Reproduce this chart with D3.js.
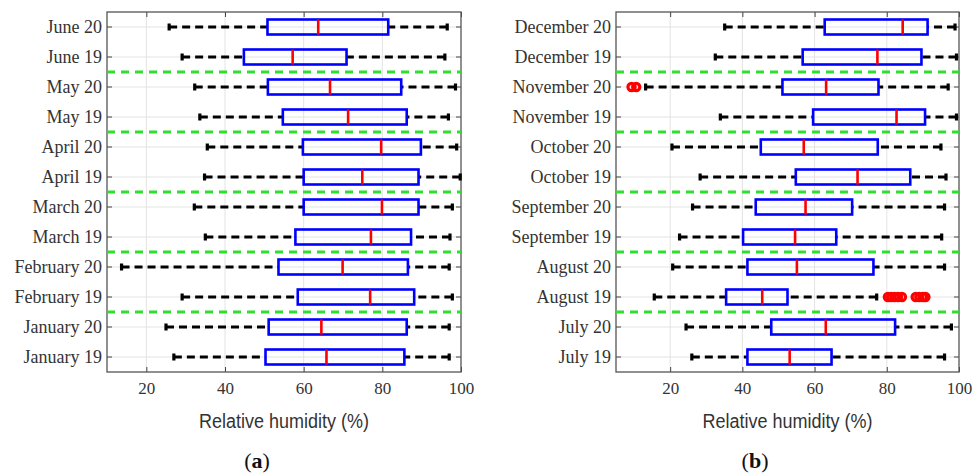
<!DOCTYPE html>
<html>
<head>
<meta charset="utf-8">
<script src="https://cdn.jsdelivr.net/npm/d3@7"></script>
<style>
  body { margin: 0; background: #fff; }
  svg { display: block; }
</style>
</head>
<body>
<svg id="chart"></svg>
<script>
// panel (a): January..June, bottom to top
var monthsA = ["January 19", "January 20", "February 19", "February 20", "March 19", "March 20",
               "April 19", "April 20", "May 19", "May 20", "June 19", "June 20"];
var lowA  = [27.0, 25.0, 29.1, 13.7, 35.0, 32.2, 34.8, 35.5, 33.6, 32.3, 29.1, 25.8];
var q1A   = [50.3, 51.1, 58.5, 53.6, 57.9, 60.0, 60.0, 59.8, 54.7, 50.9, 44.8, 50.8];
var medA  = [65.8, 64.5, 76.9, 69.9, 77.1, 79.9, 74.9, 79.7, 71.3, 66.7, 57.2, 63.7];
var q3A   = [85.6, 86.2, 88.1, 86.5, 87.3, 89.2, 89.2, 89.8, 86.2, 84.8, 70.9, 81.5];
var highA = [97.0, 97.0, 97.8, 97.0, 97.2, 97.8, 99.8, 98.9, 96.8, 98.6, 95.9, 96.5];
var outMonthA = [];
var outValA = [];

// panel (b): July..December, bottom to top
var monthsB = ["July 19", "July 20", "August 19", "August 20", "September 19", "September 20",
               "October 19", "October 20", "November 19", "November 20", "December 19", "December 20"];
var lowB  = [26.0, 24.4, 15.6, 20.7, 22.6, 26.2, 28.3, 20.5, 33.9, 13.2, 32.5, 35.1];
var q1B   = [41.4, 48.0, 35.5, 41.4, 40.2, 43.7, 54.8, 45.1, 59.6, 51.1, 56.7, 62.8];
var medB  = [53.1, 63.1, 45.5, 55.1, 54.6, 57.5, 71.9, 57.0, 82.7, 63.2, 77.4, 84.4];
var q3B   = [64.7, 82.3, 52.5, 76.3, 66.0, 70.4, 86.5, 77.5, 90.6, 77.7, 89.6, 91.3];
var highB = [96.0, 97.9, 77.2, 96.0, 95.2, 96.0, 96.4, 95.0, 99.3, 97.0, 99.3, 98.9];
var outMonthB = ["November 20", "November 20",
                 "August 19", "August 19", "August 19", "August 19", "August 19",
                 "August 19", "August 19", "August 19", "August 19"];
var outValB = [9.3, 10.6, 80.3, 81.2, 82.1, 83.1, 84.2, 88.0, 89.0, 90.0, 90.7];

var xTicks = [20, 40, 60, 80, 100];

var W = 980, H = 474;
var svg = d3.select("#chart").attr("width", W).attr("height", H);
svg.append("rect").attr("width", W).attr("height", H).attr("fill", "#fff");

function drawPanel(p) {
  var x = d3.scaleLinear().domain(p.xDomain).range([p.left, p.right]);
  var y = d3.scaleBand().domain(p.months.slice().reverse()).range([p.top, p.bottom]).padding(0);
  var bw = y.bandwidth();
  var cy = function(m) { return y(m) + bw / 2; };
  var g = svg.append("g");

  // grid
  g.selectAll(".gx").data(xTicks.filter(function(t) { return t < p.xDomain[1]; }))
    .enter().append("line")
    .attr("x1", function(d) { return x(d); }).attr("x2", function(d) { return x(d); })
    .attr("y1", p.top).attr("y2", p.bottom)
    .attr("stroke", "#e3e3e3").attr("stroke-width", 1);
  g.selectAll(".gy").data(p.months).enter().append("line")
    .attr("x1", p.left).attr("x2", p.right)
    .attr("y1", function(d) { return cy(d); }).attr("y2", function(d) { return cy(d); })
    .attr("stroke", "#e3e3e3").attr("stroke-width", 1);

  // axes
  var ax = g.append("g").attr("transform", "translate(0," + p.bottom + ")")
    .call(d3.axisBottom(x).tickValues(xTicks).tickSize(-5).tickPadding(10).tickSizeOuter(0));
  ax.selectAll("text").attr("font-family", "'Liberation Serif', serif").attr("font-size", 17).attr("fill", "#333");
  g.append("g").attr("transform", "translate(0," + p.top + ")")
    .call(d3.axisTop(x).tickValues(xTicks).tickSize(-5).tickFormat("").tickSizeOuter(0));
  var ay = g.append("g").attr("transform", "translate(" + p.left + ",0)")
    .call(d3.axisLeft(y).tickSize(-5).tickPadding(5).tickSizeOuter(0));
  ay.selectAll("text").attr("font-family", "'Liberation Serif', serif").attr("font-size", 18).attr("fill", "#333");
  g.append("g").attr("transform", "translate(" + p.right + ",0)")
    .call(d3.axisRight(y).tickSize(-5).tickFormat("").tickSizeOuter(0));
  g.selectAll(".domain").remove();
  g.selectAll(".tick line").attr("stroke", "#444").attr("stroke-width", 1);

  g.append("rect").attr("x", p.left).attr("y", p.top)
    .attr("width", p.right - p.left).attr("height", p.bottom - p.top)
    .attr("fill", "none").attr("stroke", "#555").attr("stroke-width", 1.3);

  // green separators between months
  var seps = p.months.filter(function(d, i) { return i % 2 === 1 && i < p.months.length - 1; });
  g.selectAll(".sep").data(seps).enter().append("line")
    .attr("x1", p.left).attr("x2", p.right)
    .attr("y1", function(d) { return y(d); }).attr("y2", function(d) { return y(d); })
    .attr("stroke", "#2ee02e").attr("stroke-width", 3).attr("stroke-dasharray", "8,6");

  var idx = d3.range(p.months.length);
  var capH = 3.5, boxH = 7.5;

  // whiskers
  g.selectAll(".wl").data(idx).enter().append("line")
    .attr("x1", function(i) { return x(p.low[i]); }).attr("x2", function(i) { return x(p.q1[i]); })
    .attr("y1", function(i) { return cy(p.months[i]); }).attr("y2", function(i) { return cy(p.months[i]); })
    .attr("stroke", "#000").attr("stroke-width", 3).attr("stroke-dasharray", "8,5");
  g.selectAll(".wh").data(idx).enter().append("line")
    .attr("x1", function(i) { return x(p.high[i]); }).attr("x2", function(i) { return x(p.q3[i]); })
    .attr("y1", function(i) { return cy(p.months[i]); }).attr("y2", function(i) { return cy(p.months[i]); })
    .attr("stroke", "#000").attr("stroke-width", 3).attr("stroke-dasharray", "8,5");
  g.selectAll(".cl").data(idx).enter().append("line")
    .attr("x1", function(i) { return x(p.low[i]); }).attr("x2", function(i) { return x(p.low[i]); })
    .attr("y1", function(i) { return cy(p.months[i]) - capH; }).attr("y2", function(i) { return cy(p.months[i]) + capH; })
    .attr("stroke", "#000").attr("stroke-width", 3.2);
  g.selectAll(".ch").data(idx).enter().append("line")
    .attr("x1", function(i) { return x(p.high[i]); }).attr("x2", function(i) { return x(p.high[i]); })
    .attr("y1", function(i) { return cy(p.months[i]) - capH; }).attr("y2", function(i) { return cy(p.months[i]) + capH; })
    .attr("stroke", "#000").attr("stroke-width", 3.2);

  // boxes
  g.selectAll(".box").data(idx).enter().append("rect")
    .attr("x", function(i) { return x(p.q1[i]); })
    .attr("width", function(i) { return x(p.q3[i]) - x(p.q1[i]); })
    .attr("y", function(i) { return cy(p.months[i]) - boxH; })
    .attr("height", boxH * 2)
    .attr("fill", "none").attr("stroke", "#0000ff").attr("stroke-width", 2.6);
  g.selectAll(".med").data(idx).enter().append("line")
    .attr("x1", function(i) { return x(p.med[i]); }).attr("x2", function(i) { return x(p.med[i]); })
    .attr("y1", function(i) { return cy(p.months[i]) - boxH; }).attr("y2", function(i) { return cy(p.months[i]) + boxH; })
    .attr("stroke", "#ff0000").attr("stroke-width", 2.6);

  // outliers
  g.selectAll(".out").data(d3.range(p.outMonth.length)).enter().append("circle")
    .attr("cx", function(i) { return x(p.outVal[i]); })
    .attr("cy", function(i) { return cy(p.outMonth[i]); })
    .attr("r", 3.6)
    .attr("fill", "none").attr("stroke", "#ff0000").attr("stroke-width", 3.2);

  // labels
  svg.append("text").attr("x", (p.left + p.right) / 2).attr("y", 428)
    .attr("text-anchor", "middle")
    .attr("font-family", "'Liberation Sans', Arial, sans-serif")
    .attr("font-size", 20).attr("fill", "#333")
    .attr("textLength", 170).attr("lengthAdjust", "spacingAndGlyphs")
    .text("Relative humidity (%)");
  var t = svg.append("text").attr("x", p.capX).attr("y", 468)
    .attr("text-anchor", "middle")
    .attr("font-family", "'Liberation Serif', serif")
    .attr("font-size", 22).attr("fill", "#111");
  t.append("tspan").text("(");
  t.append("tspan").attr("font-weight", "bold").text(p.cap);
  t.append("tspan").text(")");
}

drawPanel({
  months: monthsA, low: lowA, q1: q1A, med: medA, q3: q3A, high: highA,
  outMonth: outMonthA, outVal: outValA,
  xDomain: [10, 100], left: 107, right: 461, top: 12, bottom: 372,
  cap: "a", capX: 257
});
drawPanel({
  months: monthsB, low: lowB, q1: q1B, med: medB, q3: q3B, high: highB,
  outMonth: outMonthB, outVal: outValB,
  xDomain: [5, 100], left: 616, right: 959, top: 12, bottom: 372,
  cap: "b", capX: 755
});
</script>
</body>
</html>
